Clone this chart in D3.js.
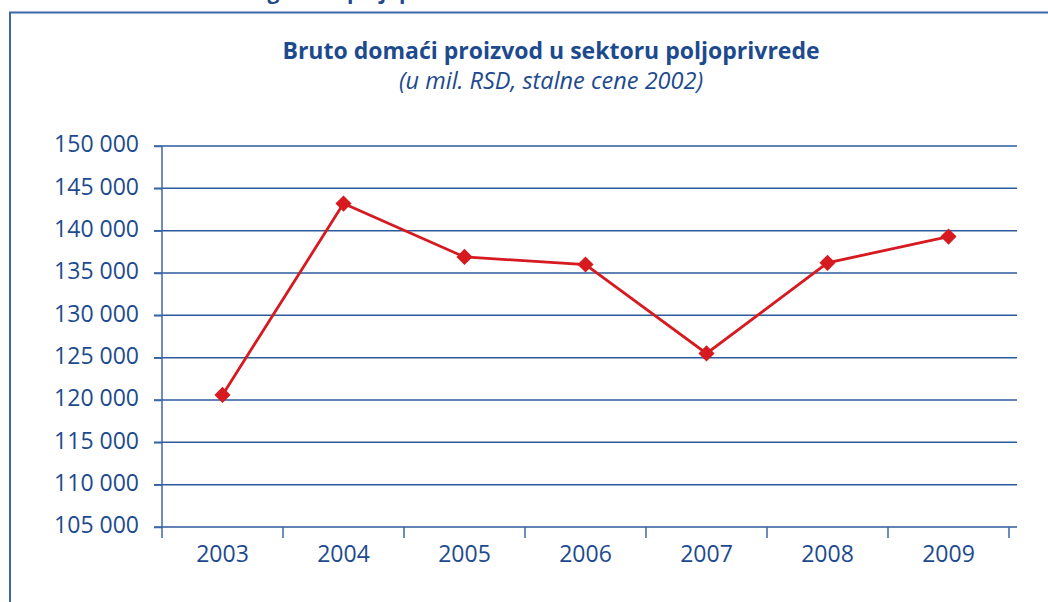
<!DOCTYPE html>
<html>
<head>
	<meta charset="utf-8">
	<title>Bruto domaći proizvod u sektoru poljoprivrede</title>
	<script src="https://cdnjs.cloudflare.com/ajax/libs/d3/7.8.5/d3.min.js"></script>
	<style type="text/css">
		body { margin: 0; background: #fff; }
		text { font-family: "Open Sans", "Noto Sans", sans-serif; fill: #1d4a8e; }
		.grid line { stroke: #2c5a9c; stroke-width: 1.5px; }
		.axis path, .axis line { stroke: #3d67a6; stroke-width: 1.5px; }
		.axis text { font-size: 23px; }
		path.series { fill: none; stroke: #d71920; stroke-width: 2.8px; }
		path.marker { fill: #d71920; }
	</style>
</head>
<body>
<script type="text/javascript">
	"use strict";

	var years = ["2003", "2004", "2005", "2006", "2007", "2008", "2009"];
	var gdp = [120600, 143200, 136900, 136000, 125500, 136200, 139300];
	var yTicks = [105000, 110000, 115000, 120000, 125000, 130000, 135000, 140000, 145000, 150000];

	var width = 1048, height = 602;
	var plotLeft = 162, plotRight = 1009, plotTop = 146, plotBottom = 527;

	var svg = d3.select("body")
		.append("svg")
			.attr("width", width)
			.attr("height", height);

	// frame of the page box
	svg.append("path")
		.attr("d", "M10," + height + "V12.5H" + width)
		.attr("fill", "none")
		.attr("stroke", "#3d67a6")
		.attr("stroke-width", 2);

	// heading above the box, mostly cut off by the page edge
	svg.append("text")
		.attr("x", 347)
		.attr("y", -1)
		.attr("text-anchor", "end")
		.attr("font-size", "21px")
		.attr("font-weight", "bold")
		.text("Grafikon 5. Dinamika rasta domaćeg BDP u ");
	svg.append("text")
		.attr("x", 347)
		.attr("y", -1)
		.attr("font-size", "21px")
		.attr("font-weight", "bold")
		.text("poljoprivredi");

	svg.append("text")
		.attr("x", 551)
		.attr("y", 59)
		.attr("text-anchor", "middle")
		.attr("font-size", "23px")
		.attr("font-weight", "bold")
		.text("Bruto domaći proizvod u sektoru poljoprivrede");

	svg.append("text")
		.attr("x", 551)
		.attr("y", 89)
		.attr("text-anchor", "middle")
		.attr("font-size", "23.5px")
		.attr("font-style", "italic")
		.text("(u mil. RSD, stalne cene 2002)");

	var x = d3.scaleBand()
		.domain(years)
		.range([plotLeft, plotRight]);

	var y = d3.scaleLinear()
		.domain([105000, 150000])
		.range([plotBottom, plotTop]);

	var fmt = function(d) {
		return d3.format(",")(d).replace(",", " ");
	};

	svg.append("g")
		.attr("class", "grid")
		.selectAll("line")
		.data(yTicks)
		.enter()
		.append("line")
			.attr("x1", plotLeft - 8)
			.attr("x2", 1017)
			.attr("y1", function(d) { return y(d); })
			.attr("y2", function(d) { return y(d); });

	var yAxis = svg.append("g")
		.attr("class", "y axis")
		.attr("transform", "translate(" + plotLeft + ",0)")
		.call(d3.axisLeft(y).tickValues(yTicks).tickFormat(fmt).tickSize(8).tickPadding(15));
	yAxis.select(".domain").attr("d", "M0," + plotTop + "V" + plotBottom);
	yAxis.selectAll(".tick text").attr("dy", "0.25em");

	var xAxis = svg.append("g")
		.attr("class", "x axis")
		.attr("transform", "translate(0," + plotBottom + ")")
		.call(d3.axisBottom(x).tickSize(0).tickPadding(19));
	xAxis.select(".domain").remove();
	xAxis.selectAll(".tick text").attr("dy", "0.71em");

	xAxis.selectAll("line.sep")
		.data(years.concat(["end"]))
		.enter()
		.append("line")
			.attr("class", "sep")
			.attr("x1", function(d, i) { return plotLeft + i * x.bandwidth(); })
			.attr("x2", function(d, i) { return plotLeft + i * x.bandwidth(); })
			.attr("y1", 0)
			.attr("y2", 11);

	var line = d3.line()
		.x(function(d, i) { return x(years[i]) + x.bandwidth() / 2; })
		.y(function(d) { return y(d); });

	svg.append("path")
		.attr("class", "series")
		.attr("d", line(gdp));

	svg.selectAll("path.marker")
		.data(gdp)
		.enter()
		.append("path")
			.attr("class", "marker")
			.attr("d", d3.symbol().type(d3.symbolSquare).size(130))
			.attr("transform", function(d, i) {
				return "translate(" + (x(years[i]) + x.bandwidth() / 2) + "," + y(d) + ") rotate(45)";
			});
</script>
</body>
</html>
